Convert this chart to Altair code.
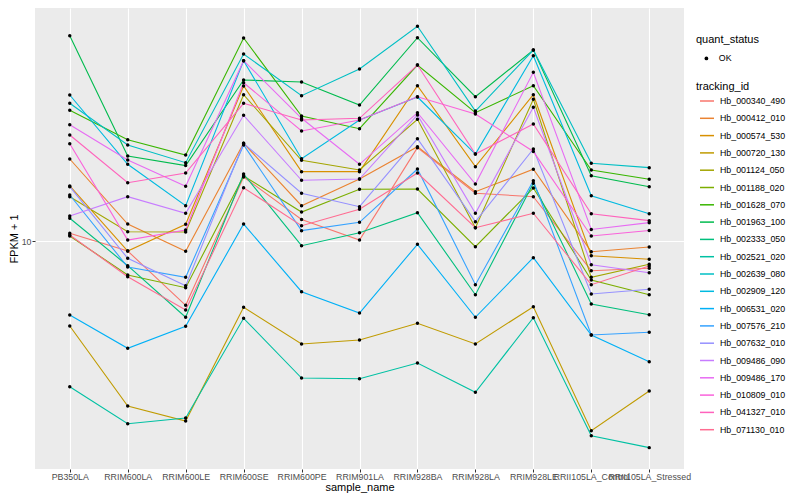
import altair as alt
import pandas as pd

samples = ["PB350LA", "RRIM600LA", "RRIM600LE", "RRIM600SE", "RRIM600PE", "RRIM901LA",
           "RRIM928BA", "RRIM928LA", "RRIM928LE", "RRII105LA_Control", "RRII105LA_Stressed"]

ids = ["Hb_000340_490", "Hb_000412_010", "Hb_000574_530", "Hb_000720_130", "Hb_001124_050",
       "Hb_001188_020", "Hb_001628_070", "Hb_001963_100", "Hb_002333_050", "Hb_002521_020",
       "Hb_002639_080", "Hb_002909_120", "Hb_006531_020", "Hb_007576_210", "Hb_007632_010",
       "Hb_009486_090", "Hb_009486_170", "Hb_010809_010", "Hb_041327_010", "Hb_071130_010"]

colors = ["#F8766D", "#EA8331", "#D89000", "#C09B00", "#A3A500", "#7CAE00", "#39B600", "#00BB4E",
          "#00BF7D", "#00C1A3", "#00BFC4", "#00BAE0", "#00B0F6", "#35A2FF", "#9590FF", "#C77CFF",
          "#E76BF3", "#FA62DB", "#FF62BC", "#FF6C91"]

quant_status = "OK"

# FPKM + 1, one list per tracking_id, in sample order
Hb_000340_490 = [10.74, 9.120, 5.531, 18.03, 12.19, 10.09, 23.62, 15.52, 15.04, 7.607, 7.777]
Hb_000412_010 = [21.28, 11.69, 9.095, 24.59, 13.84, 17.70, 23.84, 15.75, 19.36, 9.063, 9.462]
Hb_000574_530 = [16.60, 9.120, 11.66, 41.69, 18.94, 18.94, 41.80, 19.83, 38.48, 8.735, 8.450]
Hb_000720_130 = [4.571, 2.188, 1.905, 5.430, 3.873, 4.018, 4.686, 3.873, 5.460, 1.743, 2.512]
Hb_001124_050 = [15.04, 10.89, 10.86, 38.48, 21.03, 19.23, 30.68, 11.30, 36.88, 7.158, 8.069]
Hb_001188_020 = [10.47, 7.311, 6.505, 18.20, 13.06, 16.10, 16.14, 9.489, 16.29, 6.982, 6.098]
Hb_001628_070 = [33.33, 25.42, 22.08, 64.86, 31.62, 28.13, 50.58, 32.60, 41.80, 19.23, 17.65]
Hb_001963_100 = [66.25, 21.88, 20.04, 44.06, 43.25, 34.99, 65.04, 37.77, 58.08, 18.25, 16.49]
Hb_002333_050 = [12.33, 7.965, 4.953, 18.54, 9.577, 10.79, 12.98, 6.098, 17.01, 5.598, 5.073]
Hb_002521_020 = [2.613, 1.858, 1.959, 4.907, 2.831, 2.813, 3.251, 2.482, 4.934, 1.664, 1.491]
Hb_002639_080 = [35.55, 24.21, 20.57, 55.98, 38.12, 48.75, 72.24, 33.11, 58.08, 20.46, 19.65]
Hb_002909_120 = [38.37, 20.27, 13.84, 52.63, 21.34, 30.48, 37.67, 22.28, 55.11, 15.18, 12.86]
Hb_006531_020 = [5.058, 3.722, 4.559, 11.69, 6.269, 5.152, 9.700, 4.953, 8.574, 4.207, 3.290]
Hb_007576_210 = [15.28, 7.870, 7.158, 24.21, 11.00, 11.88, 19.41, 6.688, 17.42, 4.207, 4.313]
Hb_007632_010 = [16.49, 8.526, 6.626, 24.59, 15.52, 13.72, 25.66, 11.95, 23.33, 6.138, 6.409]
Hb_009486_090 = [12.59, 15.04, 12.91, 31.82, 17.49, 17.70, 31.92, 12.91, 34.26, 8.039, 7.468]
Hb_009486_170 = [29.19, 21.09, 16.55, 52.63, 30.96, 20.27, 32.60, 16.90, 47.29, 11.12, 11.84]
Hb_010809_010 = [24.50, 10.09, 11.07, 42.97, 27.54, 30.48, 37.77, 32.21, 22.80, 10.47, 11.02]
Hb_041327_010 = [26.55, 17.11, 18.71, 35.55, 30.48, 30.96, 50.58, 22.28, 29.38, 12.86, 12.06]
Hb_071130_010 = [10.57, 7.197, 5.297, 16.34, 11.51, 13.39, 18.71, 11.30, 12.91, 6.688, 7.943]

series = [Hb_000340_490, Hb_000412_010, Hb_000574_530, Hb_000720_130, Hb_001124_050,
          Hb_001188_020, Hb_001628_070, Hb_001963_100, Hb_002333_050, Hb_002521_020,
          Hb_002639_080, Hb_002909_120, Hb_006531_020, Hb_007576_210, Hb_007632_010,
          Hb_009486_090, Hb_009486_170, Hb_010809_010, Hb_041327_010, Hb_071130_010]

rows = []
for tid, vals in zip(ids, series):
    for s, v in zip(samples, vals):
        rows.append({"tracking_id": tid, "sample_name": s, "fpkm1": v, "quant_status": quant_status})
df = pd.DataFrame(rows)

FONT = "Liberation Sans"

x_enc = alt.X("sample_name:N", sort=samples,
              scale=alt.Scale(type="point", padding=0.6),
              axis=alt.Axis(title="sample_name", labelAngle=0, labelOverlap=False, labelPadding=0,
                            titlePadding=1))
y_enc = alt.Y("fpkm1:Q",
              scale=alt.Scale(type="log", domain=[1.2246, 85.51], nice=False, zero=False),
              axis=alt.Axis(title="FPKM + 1", values=[10], format="d", titlePadding=2,
                            labelPadding=1))

lines = alt.Chart(df).mark_line(strokeWidth=1.1).encode(
    x=x_enc, y=y_enc,
    color=alt.Color("tracking_id:N", sort=ids,
                    scale=alt.Scale(domain=ids, range=colors),
                    legend=alt.Legend(title="tracking_id", orient="none", legendX=661, legendY=73,
                                      symbolType="stroke", symbolSize=196, symbolStrokeWidth=1.5,
                                      symbolOffset=3, labelOffset=5, rowPadding=4.3,
                                      titlePadding=1)),
)

points = alt.Chart(df).mark_point(filled=True, size=12, opacity=1, color="black").encode(
    x=x_enc, y=y_enc,
    shape=alt.Shape("quant_status:N", scale=alt.Scale(domain=["OK"], range=["circle"]),
                    legend=alt.Legend(title="quant_status", orient="none", legendX=661, legendY=26,
                                      symbolSize=14, symbolFillColor="black", symbolStrokeWidth=0,
                                      symbolOffset=6, labelOffset=8, titlePadding=9)),
)

chart = alt.layer(lines, points).properties(
    width=649, height=461,
    autosize=alt.AutoSizeParams(type="none"),
    padding={"left": 27, "top": 0, "right": 108, "bottom": 30},
).configure(
    font=FONT,
).configure_view(
    fill="#EBEBEB", stroke=None,
).configure_axis(
    labelFont=FONT, labelFontSize=8.8, labelColor="#4D4D4D",
    titleFont=FONT, titleFontSize=11, titleFontWeight="normal", titleColor="#000000",
    tickColor="#333333", tickSize=3, tickWidth=1,
    domain=False, grid=True, gridColor="#FFFFFF", gridWidth=1.1,
).configure_legend(
    titleFont=FONT, titleFontSize=11, titleFontWeight="normal", titleColor="#000000",
    labelFont=FONT, labelFontSize=8.8, labelColor="#000000", padding=0,
)

chart.save("out.html", embed_options={"renderer": "svg", "actions": False})
